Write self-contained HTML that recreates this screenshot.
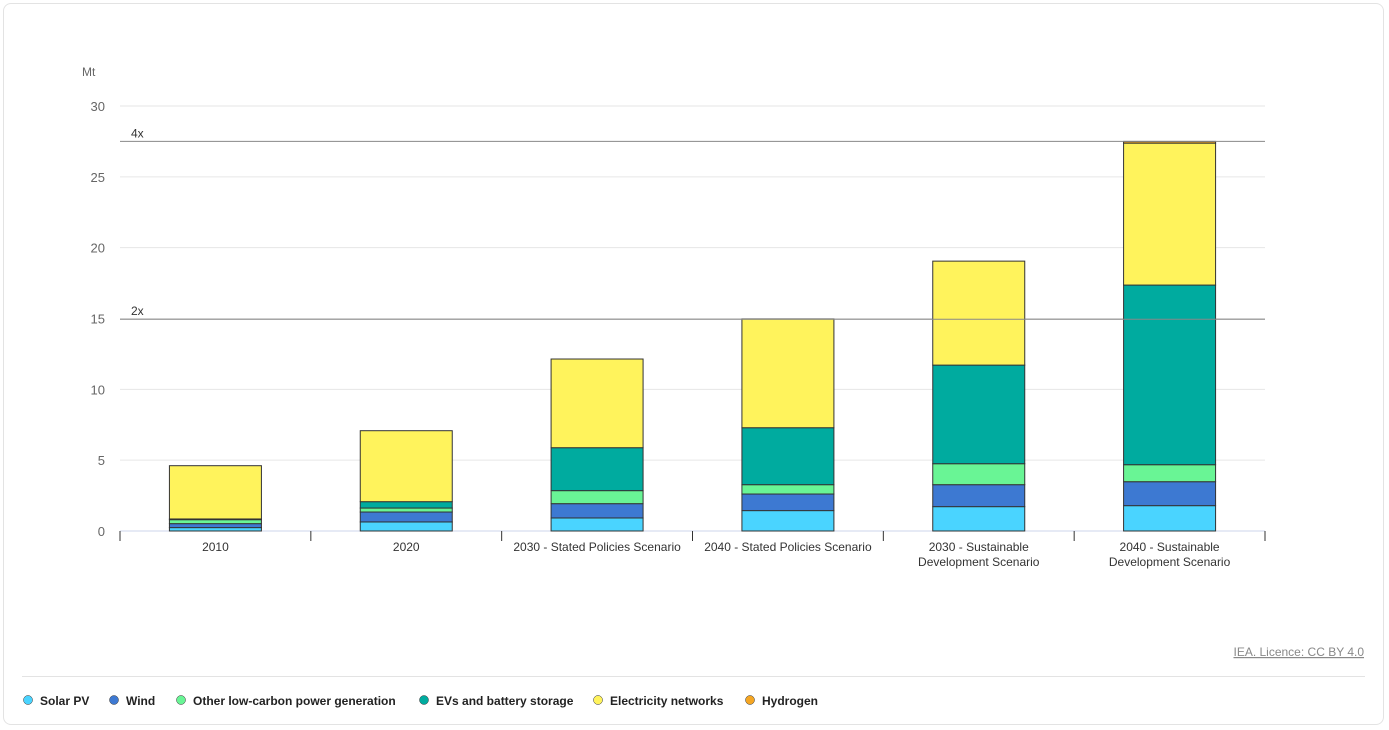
<!DOCTYPE html>
<html><head><meta charset="utf-8"><style>
body{margin:0;background:#fff;font-family:"Liberation Sans",sans-serif;}
#card{position:absolute;left:3px;top:3px;width:1381px;height:722px;border:1px solid #e3e3e3;border-radius:8px;box-sizing:border-box;}
</style></head><body>
<div id="card"></div>
<svg id="chart" width="1389" height="730" style="position:absolute;left:0;top:0;font-family:'Liberation Sans',sans-serif"></svg>
<script>
const categories=["2010","2020","2030 - Stated Policies Scenario","2040 - Stated Policies Scenario","2030 - Sustainable|Development Scenario","2040 - Sustainable|Development Scenario"];
const seriesNames=["Solar PV","Wind","Other low-carbon power generation","EVs and battery storage","Electricity networks","Hydrogen"];
const seriesColors=["#4ad4ff","#3d79d2","#69f595","#00ab9f","#fff35c","#f5a623"];
const solar=[0.24,0.64,0.92,1.44,1.72,1.79];
const wind=[0.28,0.70,1.01,1.17,1.55,1.69];
const other=[0.28,0.28,0.92,0.66,1.48,1.20];
const evs=[0.05,0.45,3.03,4.02,6.96,12.68];
const networks=[3.76,5.01,6.26,7.67,7.34,10.02];
const hydrogen=[0,0,0,0,0,0.12];
const yTicks=[0,5,10,15,20,25,30];
const refLines=[{label:"4x",value:27.5},{label:"2x",value:14.95}];
const ns="http://www.w3.org/2000/svg";
const svg=document.getElementById('chart');
const X0=120,X1=1265,Y0=531,Y30=106;
const y=v=>Y0-(v/30)*(Y0-Y30);
const band=(X1-X0)/categories.length;
const bx=i=>X0+band*i+band/2;
function mk(t,a,txt){const e=document.createElementNS(ns,t);for(const k in a)e.setAttribute(k,a[k]);if(txt!==undefined)e.textContent=txt;svg.appendChild(e);return e;}
let e=mk('text',{x:82,y:76,'font-size':12,fill:'#666'},'Mt');

yTicks.forEach(t=>{
 let g=mk('line',{x1:X0,x2:X1,y1:y(t),y2:y(t),stroke:t===0?'#ccd6eb':'#e6e6e6'});
 
 let l=mk('text',{x:105,y:y(t)+5,'font-size':13,fill:'#666','text-anchor':'end'},t);
 
});
const data=[solar,wind,other,evs,networks,hydrogen];
categories.forEach((c,i)=>{
 let acc=0;
 data.forEach((s,k)=>{
  const v=s[i];if(v<=0){return;}
  const r=mk('rect',{x:bx(i)-46,width:92,y:y(acc+v),height:y(acc)-y(acc+v),fill:seriesColors[k],stroke:'#333','stroke-width':1});
  
  
  acc+=v;
 });
 const tk=mk('line',{x1:X0+band*i,x2:X0+band*i,y1:Y0,y2:Y0+10,stroke:'#333'});
 
 c.split('|').forEach((ln,j)=>{
  const t=mk('text',{x:bx(i),y:551+j*15,'font-size':12,fill:'#333','text-anchor':'middle'},ln);
  
 });
});
const tkEnd=mk('line',{x1:X1,x2:X1,y1:Y0,y2:Y0+10,stroke:'#333'});

refLines.forEach(r=>{
 const l=mk('line',{x1:X0,x2:X1,y1:y(r.value),y2:y(r.value),stroke:'#888'});
 
 const t=mk('text',{x:131,y:y(r.value)-4,'font-size':12,fill:'#333'},r.label);
 
});
const src=mk('text',{x:1364,y:656,'font-size':12,fill:'#888','text-anchor':'end','text-decoration':'underline'},'IEA. Licence: CC BY 4.0');

const sep=mk('line',{x1:22,x2:1365,y1:676.5,y2:676.5,stroke:'#e3e3e3'});

const legX=[28,114,181,424,598,750];
seriesNames.forEach((n,k)=>{
 const c=mk('circle',{cx:legX[k],cy:700,r:4.5,fill:seriesColors[k],stroke:'#333','stroke-width':0.5});
 
 const t=mk('text',{x:legX[k]+12,y:705,'font-size':12,'font-weight':'bold',fill:'#222'},n);
 
});
</script>
</body></html>
